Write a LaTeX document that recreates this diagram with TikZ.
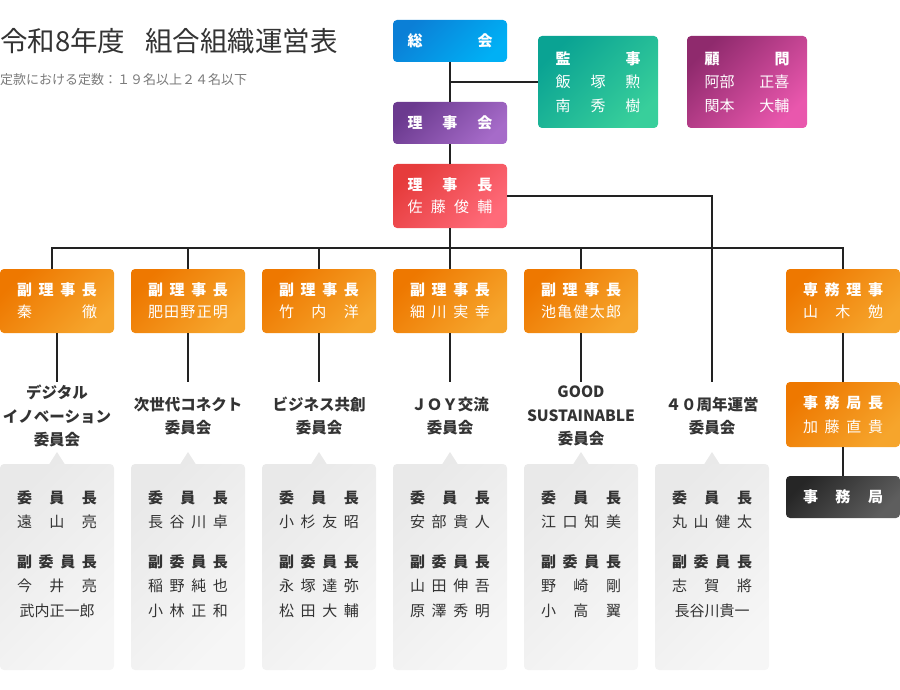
\documentclass[tikz,border=0pt]{standalone}
\usepackage{fontspec}
\setmainfont{Noto Sans CJK JP}

\definecolor{linie}{HTML}{222222}
\definecolor{schrift}{HTML}{333333}
\definecolor{hellgrau}{HTML}{7A7A7A}
\definecolor{blauA}{HTML}{0B7FD6}
\definecolor{blauB}{HTML}{00B0F5}
\definecolor{lilaA}{HTML}{6B3A8F}
\definecolor{lilaB}{HTML}{A66BC9}
\definecolor{rotA}{HTML}{E63C3C}
\definecolor{rotB}{HTML}{FF6A79}
\definecolor{gruenA}{HTML}{0AA393}
\definecolor{gruenB}{HTML}{38CF9B}
\definecolor{magentaA}{HTML}{8F2A6D}
\definecolor{magentaB}{HTML}{E957AD}
\definecolor{orangeA}{HTML}{EE7800}
\definecolor{orangeB}{HTML}{F6A52C}
\definecolor{dunkelA}{HTML}{262626}
\definecolor{dunkelB}{HTML}{5E5E5E}
\definecolor{kastenA}{HTML}{E9E9E9}
\definecolor{kastenB}{HTML}{F6F6F6}

% Text auf feste Breite sperren
\newcommand{\sperr}[2][80pt]{\makebox[#1]{#2}}

\tikzset{
	kasten/.style={rounded corners=4pt, inner sep=0pt, minimum width=114pt,
		text=white, align=center, font=\fontsize{15}{22}\selectfont},
	verlauf/.style 2 args={top color=#1, bottom color=#2, shading angle=45},
	verbindung/.style={draw=linie, line width=2pt},
	ausschuss/.style={rounded corners=4pt, minimum width=114pt, minimum height=206pt,
		inner sep=0pt, verlauf={kastenA}{kastenB}},
	ausschusstitel/.style={inner sep=0pt, align=center, text=schrift,
		font=\fontsize{15.5}{23.5}\selectfont\bfseries},
	inhalt/.style={inner sep=0pt, align=center, text=schrift,
		font=\fontsize{15}{24.5}\selectfont}
}

\begin{document}
\begin{tikzpicture}[x=1pt,y=-1pt]
	\useasboundingbox (0,0) rectangle (900,690);
	
	% Titel
	\node[anchor=west, inner sep=0pt, text=schrift, font=\fontsize{27.5}{30}\selectfont]
		(titel) at (0,41) {令和8年度\hspace{20pt}組合組織運営表};
	\node[anchor=west, inner sep=0pt, text=hellgrau, font=\fontsize{13}{15}\selectfont]
		(untertitel) at (0,80) {定款における定数：１９名以上２４名以下};
	
	% Oberste Ebene
	\node[kasten, verlauf={blauA}{blauB}, minimum height=42pt] (sokai) at (450,41)
		{\textbf{\sperr[85pt]{総\hfill 会}}};
	\node[kasten, verlauf={lilaA}{lilaB}, minimum height=42pt] (rijikai) at (450,123)
		{\textbf{\sperr[85pt]{理\hfill 事\hfill 会}}};
	\node[kasten, verlauf={rotA}{rotB}, minimum height=64pt] (rijicho) at (450,196)
		{\textbf{\sperr[85pt]{理\hfill 事\hfill 長}}\\\sperr[85pt]{佐\hfill 藤\hfill 俊\hfill 輔}};
	\node[kasten, verlauf={gruenA}{gruenB}, minimum width=120pt, minimum height=92pt,
		font=\fontsize{15}{23.5}\selectfont] (kanji) at (598,82)
		{\textbf{\sperr[85pt]{監\hfill 事}}\\\sperr[85pt]{飯\hfill 塚\hfill 勲}\\\sperr[85pt]{南\hfill 秀\hfill 樹}};
	\node[kasten, verlauf={magentaA}{magentaB}, minimum width=120pt, minimum height=92pt,
		font=\fontsize{15}{23.5}\selectfont] (komon) at (747,82)
		{\textbf{\sperr[85pt]{顧\hfill 問}}\\\sperr[85pt]{阿部\hfill 正喜}\\\sperr[85pt]{関本\hfill 大輔}};
	
	\draw[verbindung] (sokai) -- (rijikai);
	\draw[verbindung] (kanji.west) -- (kanji.west -| sokai.south);
	\draw[verbindung] (rijikai) -- (rijicho);
	
	% Vizepräsidenten
	\foreach \x/\name [count=\i] in {57/{秦\hfill 徹}, 188/{肥\hfill 田\hfill 野\hfill 正\hfill 明},
		319/{竹\hfill 内\hfill 洋}, 450/{細\hfill 川\hfill 実\hfill 幸}, 581/{池\hfill 亀\hfill 健\hfill 太\hfill 郎}} {
		\node[kasten, verlauf={orangeA}{orangeB}, minimum height=64pt] (v\i) at (\x,301)
			{\textbf{\sperr{副\hfill 理\hfill 事\hfill 長}}\\\sperr{\name}};
	}
	
	% Rechte Spalte
	\node[kasten, verlauf={orangeA}{orangeB}, minimum height=64pt] (senmu) at (843,301)
		{\textbf{\sperr{専\hfill 務\hfill 理\hfill 事}}\\\sperr{山\hfill 木\hfill 勉}};
	\node[kasten, verlauf={orangeA}{orangeB}, minimum height=65pt,
		font=\fontsize{15}{24}\selectfont] (kyokucho) at (843,414.5)
		{\textbf{\sperr{事\hfill 務\hfill 局\hfill 長}}\\\sperr{加\hfill 藤\hfill 直\hfill 貴}};
	\node[kasten, verlauf={dunkelA}{dunkelB}, minimum height=42pt] (kyoku) at (843,497)
		{\textbf{\sperr{事\hfill 務\hfill 局}}};
	
	% Sammelschiene
	\coordinate (bus) at (450,248);
	\draw[verbindung] (rijicho) -- (bus);
	\draw[verbindung] ([xshift=-5pt]v1.north) |- (bus) -| (senmu.north);
	\foreach \i in {2,3,4,5} {
		\draw[verbindung] (v\i.north) -- (v\i.north |- bus);
	}
	\draw[verbindung] (senmu) -- (kyokucho);
	\draw[verbindung] (kyokucho) -- (kyoku);
	
	% Ausschüsse mit Besetzung
	\foreach \x/\titel/\a/\b/\c [count=\i] in {
		57/{デジタル\\イノベーション\\委員会}/{遠\hfill 山\hfill 亮}/{今\hfill 井\hfill 亮}/{武内正一郎},
		188/{次世代コネクト\\委員会}/{長\hfill 谷\hfill 川\hfill 卓}/{稲\hfill 野\hfill 純\hfill 也}/{小\hfill 林\hfill 正\hfill 和},
		319/{ビジネス共創\\委員会}/{小\hfill 杉\hfill 友\hfill 昭}/{永\hfill 塚\hfill 達\hfill 弥}/{松\hfill 田\hfill 大\hfill 輔},
		450/{ＪＯＹ交流\\委員会}/{安\hfill 部\hfill 貴\hfill 人}/{山\hfill 田\hfill 伸\hfill 吾}/{原\hfill 澤\hfill 秀\hfill 明},
		581/{GOOD\\SUSTAINABLE\\委員会}/{江\hfill 口\hfill 知\hfill 美}/{野\hfill 崎\hfill 剛}/{小\hfill 高\hfill 翼},
		712/{４０周年運営\\委員会}/{丸\hfill 山\hfill 健\hfill 太}/{志\hfill 賀\hfill 將}/{長谷川貴一}} {
		\coordinate (e\i) at (\x,382);
		\node[ausschusstitel] (t\i) at (\x,416) {\titel};
		\fill[kastenA] (\x-8,464.5) -- (\x,452) -- (\x+8,464.5) -- cycle;
		\node[ausschuss] (k\i) at (\x,567) {};
		\node[inhalt, anchor=north] (n\i) at (\x,490)
			{\textbf{\sperr{委\hfill 員\hfill 長}}\\\sperr{\a}\\[15pt]
			 \textbf{\sperr{副\hfill 委\hfill 員\hfill 長}}\\\sperr{\b}\\\sperr{\c}};
	}
	
	\foreach \i in {1,...,5} {
		\draw[verbindung] (v\i) -- (e\i);
	}
	\draw[verbindung] (rijicho.east) -| (e6);
\end{tikzpicture}
\end{document}
